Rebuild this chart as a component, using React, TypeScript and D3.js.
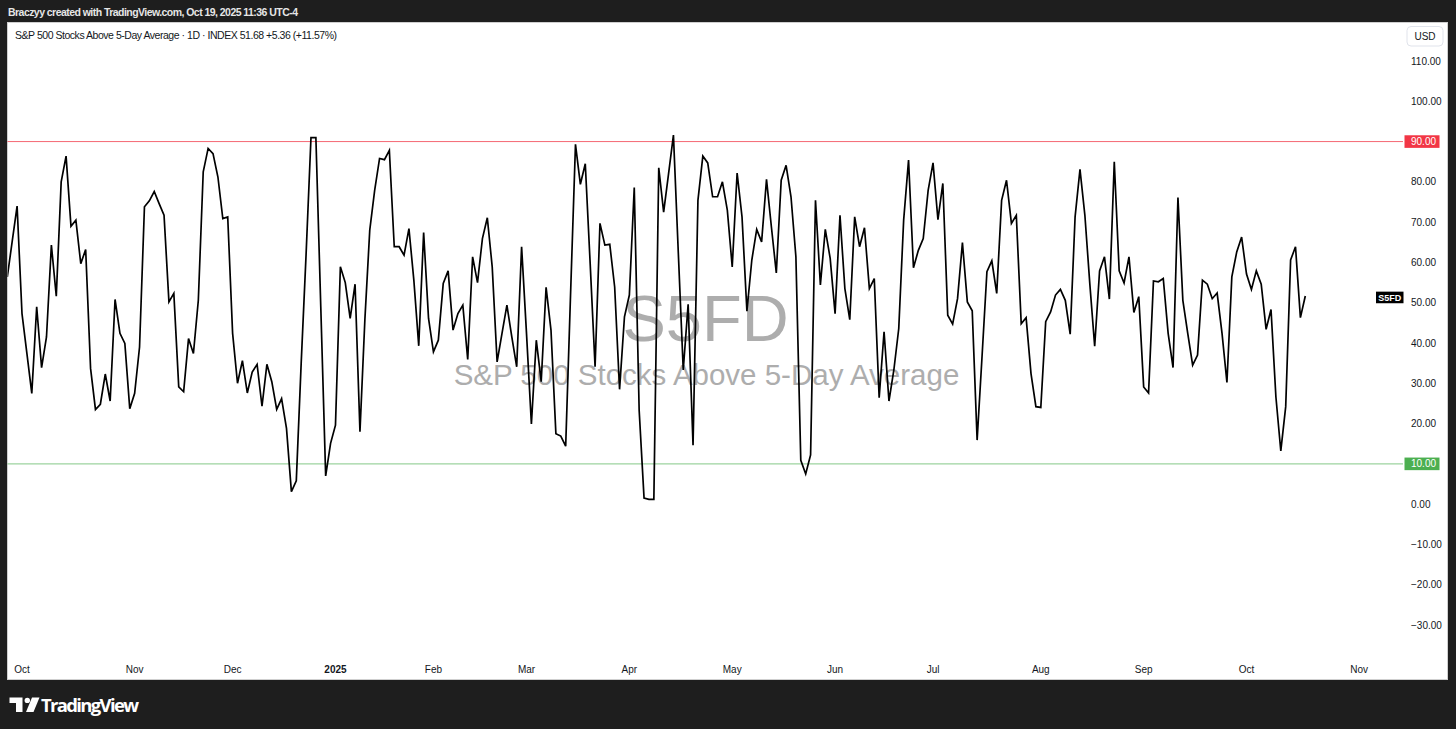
import React from 'react';
import * as d3 from 'd3';

// S&P 500 Stocks Above 5-Day Average (S5FD), daily, Sep 26 2024 -> Oct 17 2025 (bar index)
const values: number[] = [
  56.4, 65.2, 74.0, 47.3, 37.4, 27.5, 49.0, 33.9, 41.5, 64.3,
  51.6, 80.0, 86.4, 69.0, 70.5, 59.7, 63.2, 33.7, 23.5, 24.8,
  32.3, 25.6, 50.8, 42.4, 39.9, 23.7, 27.5, 39.0, 73.8, 75.3,
  77.6, 74.6, 71.7, 50.2, 52.3, 29.1, 27.9, 41.1, 37.4, 50.6,
  82.5, 88.3, 87.0, 81.2, 70.9, 71.3, 42.4, 30.0, 35.6, 27.6,
  32.8, 34.7, 24.3, 34.7, 30.4, 23.5, 26.2, 18.8, 3.1, 5.8,
  35.0, 62.0, 91.0, 91.0, 49.0, 7.0, 15.1, 19.6, 58.9, 55.0,
  46.1, 54.6, 18.0, 45.7, 68.0, 77.9, 85.8, 85.5, 87.8, 63.9,
  63.9, 61.8, 68.4, 55.6, 39.3, 67.4, 46.1, 37.8, 40.7, 54.8,
  57.9, 43.2, 47.3, 49.4, 35.9, 61.4, 55.0, 65.9, 71.1, 58.9,
  35.3, 42.4, 49.4, 41.5, 34.1, 63.9, 42.4, 19.9, 40.7, 30.4,
  53.8, 43.2, 17.5, 16.9, 14.4, 52.3, 89.3, 79.4, 84.5, 59.7,
  34.1, 69.7, 64.3, 64.5, 53.9, 28.5, 46.5, 51.9, 78.6, 23.3,
  1.5, 1.2, 1.2, 83.5, 72.5, 82.0, 91.6, 62.2, 33.3, 49.6,
  14.6, 75.4, 86.4, 84.7, 76.3, 76.3, 80.0, 73.0, 58.9, 82.2,
  71.3, 47.9, 60.6, 68.2, 65.1, 80.6, 68.8, 57.4, 80.4, 84.1,
  76.3, 61.4, 10.9, 7.5, 12.2, 75.4, 54.4, 68.2, 61.0, 47.3,
  71.7, 53.5, 45.8, 71.3, 63.9, 68.6, 53.5, 56.0, 26.4, 42.8,
  25.6, 33.3, 43.6, 70.5, 85.4, 58.7, 63.0, 65.9, 77.9, 84.7,
  70.6, 79.6, 46.9, 44.7, 51.0, 64.9, 50.2, 48.0, 15.9, 36.6,
  57.7, 60.4, 52.3, 75.4, 80.4, 69.7, 71.7, 44.8, 46.3, 32.4,
  24.2, 24.0, 45.3, 47.7, 51.9, 53.3, 50.6, 42.2, 71.3, 83.1,
  71.7, 54.8, 39.2, 57.9, 61.4, 50.9, 85.0, 57.9, 54.9, 61.4,
  47.6, 51.5, 29.1, 27.6, 55.4, 55.2, 56.0, 42.4, 33.9, 76.1,
  50.6, 42.4, 34.5, 37.0, 55.6, 54.6, 51.0, 52.4, 42.4, 30.2,
  56.4, 62.6, 66.3, 57.1, 53.3, 57.9, 54.6, 43.4, 48.3, 26.6,
  13.2, 24.2, 60.6, 63.9, 46.3, 51.68,
];

// month tick labels and the bar index of each month's first trading day
const monthLabels: string[] = ['Oct', 'Nov', 'Dec', '2025', 'Feb', 'Mar', 'Apr', 'May', 'Jun', 'Jul', 'Aug', 'Sep', 'Oct', 'Nov'];
const monthBarIndex: number[] = [3, 26, 46, 67, 87, 106, 127, 148, 169, 189, 211, 232, 253, 276];
const yearLabels: string[] = ['2025'];

const yTickValues: number[] = [110, 100, 90, 80, 70, 60, 50, 40, 30, 20, 10, 0, -10, -20, -30];
const upperLevel = 90;
const lowerLevel = 10;
const symbol = 'S5FD';
const titleText = 'S&P 500 Stocks Above 5-Day Average';
const legendText = 'S&P 500 Stocks Above 5-Day Average · 1D · INDEX  51.68  +5.36 (+11.57%)';
const creditText = 'Braczyy created with TradingView.com, Oct 19, 2025 11:36 UTC-4';

const W = 1456;
const H = 729;
const panel = { left: 7.5, top: 22.5, right: 1447.5, bottom: 679.5 };
const plotRight = 1403;

const fmt = (v: number) => (v < 0 ? '\u2212' + Math.abs(v).toFixed(2) : v.toFixed(2));

export default function App() {
  const x = d3.scaleLinear().domain([0, values.length - 1]).range([7.3, 1305.3]);
  const y = d3.scaleLinear().domain([-30, 110]).range([625, 61]);
  const line = d3
    .line<number>()
    .x((_, i) => x(i))
    .y((d) => y(d));
  const path = line(values) || '';
  const last = values[values.length - 1];
  const axisFont = "'Liberation Sans', Arial, sans-serif";

  return (
    <div style={{ position: 'fixed', left: 0, top: 0, width: W, height: H }}>
      <svg width={W} height={H} style={{ display: 'block' }}>
        <defs>
          <clipPath id="plotClip">
            <rect x={panel.left} y={panel.top} width={plotRight - panel.left} height={panel.bottom - panel.top} />
          </clipPath>
        </defs>
        <rect x={0} y={0} width={W} height={H} fill="#1e1e1e" />
        <text x={8} y={16} fill="#e6e6e6" fontSize={10.5} fontWeight={600} fontFamily={axisFont} textLength={290}>
          {creditText}
        </text>
        <rect
          x={panel.left}
          y={panel.top}
          width={panel.right - panel.left}
          height={panel.bottom - panel.top}
          fill="#ffffff"
          stroke="#cfcfcf"
          strokeWidth={1}
        />
        {/* legend */}
        <text x={15} y={38.5} fill="#131722" fontSize={10.5} fontFamily={axisFont} textLength={322}>
          {legendText}
        </text>
        {/* watermark */}
        <text x={705.5} y={341} textAnchor="middle" fill="#adadad" fontSize={65} fontFamily={axisFont}>
          {symbol}
        </text>
        <text x={706.5} y={385} textAnchor="middle" fill="#adadad" fontSize={29.5} fontFamily={axisFont}>
          {titleText}
        </text>
        {/* level lines */}
        <line x1={panel.left} x2={plotRight} y1={y(upperLevel)} y2={y(upperLevel)} stroke="#f23645" strokeOpacity={0.75} strokeWidth={1} />
        <line x1={panel.left} x2={plotRight} y1={y(lowerLevel)} y2={y(lowerLevel)} stroke="#4caf50" strokeOpacity={0.55} strokeWidth={1.2} />
        {/* series */}
        <path d={path} fill="none" stroke="#000000" strokeWidth={1.7} strokeLinejoin="miter" clipPath="url(#plotClip)" />
        {/* price axis */}
        <rect x={1407} y={26.5} width={36} height={19.5} rx={4} fill="#ffffff" stroke="#e0e3eb" />
        <text x={1425} y={39.5} textAnchor="middle" fill="#131722" fontSize={10} fontFamily={axisFont}>
          USD
        </text>
        {yTickValues.map((v) => (
          <text key={v} x={1411} y={y(v) + 3.6} fill="#131722" fontSize={10} fontFamily={axisFont}>
            {fmt(v)}
          </text>
        ))}
        <rect x={1404.5} y={y(upperLevel) - 6.3} width={35} height={12.6} fill="#f23645" />
        <text x={1411} y={y(upperLevel) + 3.6} fill="#ffffff" fontSize={10} fontFamily={axisFont}>
          {fmt(upperLevel)}
        </text>
        <rect x={1404.5} y={y(lowerLevel) - 6.3} width={35} height={12.6} fill="#4caf50" />
        <text x={1411} y={y(lowerLevel) + 3.6} fill="#ffffff" fontSize={10} fontFamily={axisFont}>
          {fmt(lowerLevel)}
        </text>
        <rect x={1376} y={y(last) - 4.3} width={27.5} height={11.6} fill="#000000" />
        <text x={1389.7} y={y(last) + 5} textAnchor="middle" fill="#ffffff" fontSize={9} fontWeight={700} fontFamily={axisFont}>
          {symbol}
        </text>
        {/* time axis */}
        {monthLabels.map((m, i) => (
          <text
            key={m + i}
            x={x(monthBarIndex[i])}
            y={672.5}
            textAnchor="middle"
            fill="#131722"
            fontSize={10}
            fontWeight={yearLabels.includes(m) ? 700 : 400}
            fontFamily={axisFont}
          >
            {m}
          </text>
        ))}
        {/* TradingView logo */}
        <path d="M9.5,697.5 H22.5 V712 H16 V703 H9.5 Z" fill="#ffffff" />
        <circle cx={27.3} cy={700.4} r={2.7} fill="#ffffff" />
        <path d="M32,697.5 H39.5 L33.5,712 H26 Z" fill="#ffffff" />
        <text x={41} y={711.5} fill="#ffffff" fontSize={18.5} fontWeight={700} fontFamily="'Open Sans', Arial, sans-serif" textLength={98}>
          TradingView
        </text>
      </svg>
    </div>
  );
}
